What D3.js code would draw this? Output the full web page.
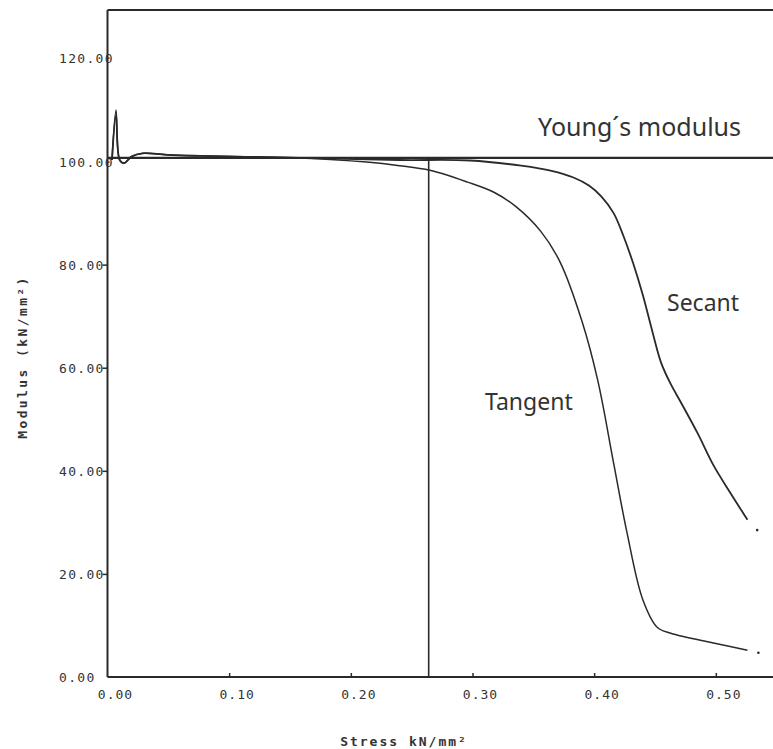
<!DOCTYPE html>
<html>
<head>
<meta charset="utf-8">
<script src="https://cdn.jsdelivr.net/npm/d3@7"></script>
<style>
  body { margin: 0; background: #fff; }
</style>
</head>
<body>
<div class="graph"></div>
<script>
// stress (kN/mm2) vs modulus (kN/mm2)
var tangentStress = [0.0037, 0.007, 0.010, 0.0136, 0.02, 0.029, 0.049, 0.076, 0.158, 0.213, 0.240, 0.265, 0.296, 0.318, 0.336, 0.356, 0.372, 0.390, 0.403, 0.416, 0.427, 0.440, 0.452, 0.463, 0.498, 0.526];
var tangentModulus = [100.3, 110.0, 100.3, 99.7, 101.0, 101.6, 101.3, 101.1, 100.7, 99.9, 99.2, 98.3, 96.0, 94.0, 91.2, 86.5, 80.5, 69.0, 57.5, 41.5, 28.0, 15.0, 9.6, 8.5, 6.6, 5.2];

var secantStress = [0.0037, 0.007, 0.010, 0.0136, 0.02, 0.029, 0.049, 0.076, 0.158, 0.240, 0.298, 0.340, 0.365, 0.383, 0.396, 0.406, 0.416, 0.424, 0.432, 0.440, 0.448, 0.455, 0.463, 0.471, 0.485, 0.498, 0.512, 0.526];
var secantModulus = [100.3, 109.0, 100.3, 99.7, 101.0, 101.6, 101.3, 101.1, 100.7, 100.3, 100.2, 99.2, 98.2, 96.9, 95.3, 93.2, 90.0, 85.6, 80.3, 74.1, 66.9, 61.0, 56.8, 53.4, 47.3, 41.1, 35.7, 30.5];

// loose plotter dots after the end of each curve
var endDots = [{stress: 0.535, modulus: 4.7}, {stress: 0.534, modulus: 28.5}];

var youngsModulus = 100.7;
var markerStress = 0.264;

var xTicks = [0, 0.1, 0.2, 0.3, 0.4, 0.5];
var xTickLabels = ["0.00", "0.10", "0.20", "0.30", "0.40", "0.50"];
var yTicks = [0, 20, 40, 60, 80, 100, 120];
var yTickLabels = ["0.00", "20.00", "40.00", "60.00", "80.00", "100.00", "120.00"];

var width = 773, height = 749;
var ink = "#2a2a2a";

var svg = d3.select(".graph")
  .append("svg")
  .attr("width", width)
  .attr("height", height);

var x = d3.scaleLinear()
  .domain([0, 0.547])
  .range([107.5, 773]);

var y = d3.scaleLinear()
  .domain([0, 129.4])
  .range([677, 10]);

// frame: left axis, bottom axis, top line
svg.append("line")
  .attr("x1", x(0)).attr("x2", x(0))
  .attr("y1", y(129.4)).attr("y2", y(0))
  .attr("stroke", ink).attr("stroke-width", 2);
svg.append("line")
  .attr("x1", x(0)).attr("x2", width)
  .attr("y1", y(0)).attr("y2", y(0))
  .attr("stroke", ink).attr("stroke-width", 2);
svg.append("line")
  .attr("x1", x(0)).attr("x2", width)
  .attr("y1", y(129.4)).attr("y2", y(129.4))
  .attr("stroke", ink).attr("stroke-width", 1.8);

// x ticks (small marks inside) + labels
var xAxis = svg.append("g")
  .attr("transform", "translate(0," + y(0) + ")")
  .call(d3.axisTop(x).tickValues(xTicks.slice(1)).tickSize(4).tickFormat(""));
xAxis.select(".domain").remove();
xAxis.selectAll("line").attr("stroke", ink).attr("stroke-width", 1.5);

svg.selectAll(".xlab")
  .data(xTicks)
  .enter().append("text")
  .attr("class", "xlab")
  .attr("x", function(d) { return x(d) + 8; })
  .attr("y", y(0) + 22)
  .attr("text-anchor", "middle")
  .attr("font-family", "DejaVu Sans Mono")
  .attr("font-size", 13)
  .attr("letter-spacing", 1)
  .attr("fill", "#333")
  .text(function(d, i) { return xTickLabels[i]; });

// y ticks (small marks outside) + labels, left aligned like the plotter did
var yAxis = svg.append("g")
  .attr("transform", "translate(" + x(0) + ",0)")
  .call(d3.axisLeft(y).tickValues(yTicks.slice(1, 5)).tickSize(5).tickFormat(""));
yAxis.select(".domain").remove();
yAxis.selectAll("line").attr("stroke", ink).attr("stroke-width", 1.5);

svg.selectAll(".ylab")
  .data(yTicks)
  .enter().append("text")
  .attr("class", "ylab")
  .attr("x", 59)
  .attr("y", function(d) { return y(d) + 5; })
  .attr("font-family", "DejaVu Sans Mono")
  .attr("font-size", 13)
  .attr("letter-spacing", 1.3)
  .attr("fill", "#333")
  .text(function(d, i) { return yTickLabels[i]; });

// axis titles
svg.append("text")
  .attr("x", 404)
  .attr("y", 746)
  .attr("text-anchor", "middle")
  .attr("font-family", "DejaVu Sans Mono")
  .attr("font-weight", "bold")
  .attr("font-size", 13)
  .attr("letter-spacing", 2)
  .attr("fill", "#333")
  .text("Stress kN/mm²");

svg.append("text")
  .attr("transform", "translate(27,357) rotate(-90)")
  .attr("text-anchor", "middle")
  .attr("font-family", "DejaVu Sans Mono")
  .attr("font-weight", "bold")
  .attr("font-size", 13)
  .attr("letter-spacing", 2.4)
  .attr("fill", "#333")
  .text("Modulus (kN/mm²)");

// Young's modulus line
svg.append("line")
  .attr("x1", x(0)).attr("x2", width)
  .attr("y1", y(youngsModulus)).attr("y2", y(youngsModulus))
  .attr("stroke", ink).attr("stroke-width", 2.2);

// vertical marker
svg.append("line")
  .attr("x1", x(markerStress)).attr("x2", x(markerStress))
  .attr("y1", y(youngsModulus)).attr("y2", y(0))
  .attr("stroke", ink).attr("stroke-width", 1.6);

var line = d3.line()
  .x(function(d) { return x(d[0]); })
  .y(function(d) { return y(d[1]); })
  .curve(d3.curveCatmullRom.alpha(0.5));

svg.append("path")
  .datum(d3.zip(secantStress, secantModulus))
  .attr("fill", "none")
  .attr("stroke", ink)
  .attr("stroke-width", 1.8)
  .attr("d", line);

svg.append("path")
  .datum(d3.zip(tangentStress, tangentModulus))
  .attr("fill", "none")
  .attr("stroke", ink)
  .attr("stroke-width", 1.5)
  .attr("d", line);

svg.selectAll(".dot")
  .data(endDots)
  .enter().append("circle")
  .attr("cx", function(d) { return x(d.stress); })
  .attr("cy", function(d) { return y(d.modulus); })
  .attr("r", 1.3)
  .attr("fill", ink);

// curve labels
var labelFont = "Noto Sans";
svg.append("text")
  .attr("x", 538).attr("y", 136)
  .attr("font-family", labelFont)
  .attr("font-size", 25)
  .attr("fill", "#333")
  .text("Young\u00b4s modulus");
svg.append("text")
  .attr("x", 667).attr("y", 311)
  .attr("font-family", labelFont)
  .attr("font-size", 23)
  .attr("fill", "#333")
  .text("Secant");
svg.append("text")
  .attr("x", 485).attr("y", 410)
  .attr("font-family", labelFont)
  .attr("font-size", 23)
  .attr("fill", "#333")
  .text("Tangent");
</script>
</body>
</html>
